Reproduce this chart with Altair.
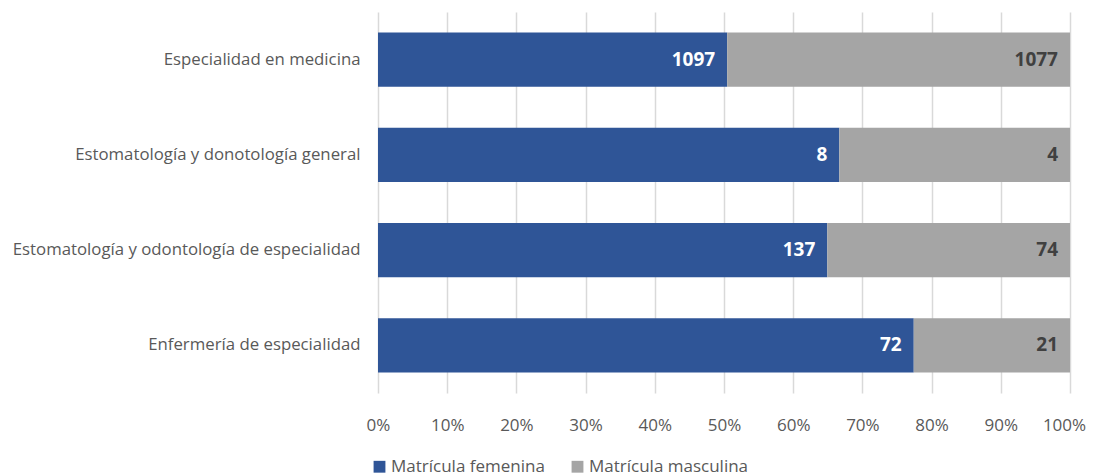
import altair as alt
import pandas as pd

categories = [
    "Especialidad en medicina",
    "Estomatología y donotología general",
    "Estomatología y odontología de especialidad",
    "Enfermería de especialidad",
]
femenina = [1097, 8, 137, 72]
masculina = [1077, 4, 74, 21]
series = ["Matrícula femenina", "Matrícula masculina"]
colors = ["#2f5597", "#a5a5a5"]
label_colors = ["#ffffff", "#404040"]

rows = []
for i, c in enumerate(categories):
    rows.append({"cat": c, "serie": series[0], "value": femenina[i], "ord": 0, "lc": label_colors[0]})
    rows.append({"cat": c, "serie": series[1], "value": masculina[i], "ord": 1, "lc": label_colors[1]})
df = pd.DataFrame(rows)

FONT = "Open Sans"

base = alt.Chart(df).transform_stack(
    stack="value", groupby=["cat"], as_=["v0", "v1"], offset="normalize",
    sort=[alt.SortField("ord", order="ascending")],
)

y = alt.Y("cat:N", sort=categories, title=None,
          scale=alt.Scale(paddingInner=0.43, paddingOuter=0.215),
          axis=alt.Axis(domain=False, ticks=False, labelFont=FONT, labelFontSize=16.8,
                        labelColor="#595959", labelPadding=18, labelLimit=400))

bars = base.mark_bar().encode(
    x=alt.X("v0:Q", title=None, scale=alt.Scale(domain=[0, 1], nice=False),
            axis=alt.Axis(format=".0%", values=[i / 10 for i in range(11)], domain=False, ticks=False,
                          grid=True, gridColor="#d9d9d9", gridWidth=1.5, labelFont=FONT,
                          labelFontSize=17, labelColor="#595959", labelPadding=24,
                          labelFlush=False,
                          labelOffset={"condition": {"test": "datum.value >= 1", "value": -6}, "value": 0})),
    x2="v1:Q",
    y=y,
    color=alt.Color("serie:N", scale=alt.Scale(domain=series, range=colors), title=None,
                    legend=alt.Legend(orient="none", legendX=-7, legendY=446, direction="horizontal",
                                      symbolType="square", symbolSize=140, symbolStrokeWidth=0,
                                      labelFont=FONT, labelFontSize=17, labelColor="#595959",
                                      columnPadding=24, labelOffset=3, labelLimit=300)),
)

text = base.mark_text(align="right", baseline="middle", dx=-12, font=FONT, fontSize=19,
                      fontWeight="bold").encode(
    x="v1:Q",
    y=alt.Y("cat:N", sort=categories),
    text=alt.Text("value:Q"),
    color=alt.Color("lc:N", scale=None),
)

chart = (bars + text).properties(
    width=692, height=381,
    autosize=alt.AutoSizeParams(type="none"),
    padding={"left": 370, "top": 4, "right": 16, "bottom": 83},
).configure_view(stroke=None)

chart.save("out.html", embed_options={"renderer": "svg", "actions": False})
